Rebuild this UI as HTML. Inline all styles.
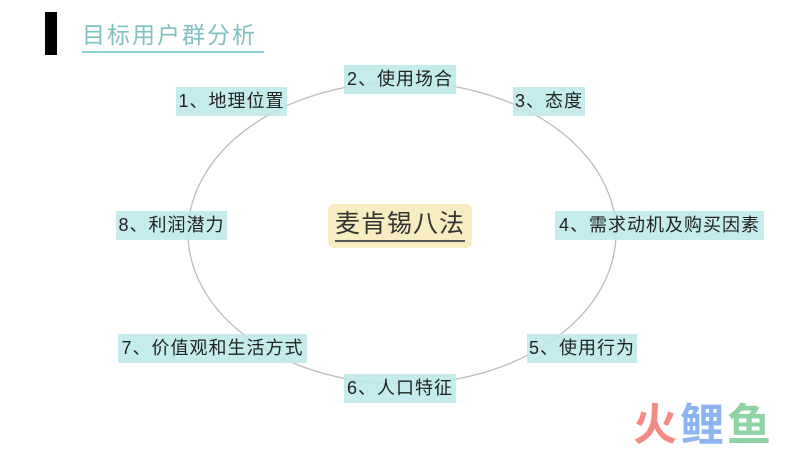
<!DOCTYPE html>
<html><head><meta charset="utf-8"><style>
html,body{margin:0;padding:0;background:#fff;}
body{width:800px;height:450px;position:relative;overflow:hidden;font-family:"Liberation Sans","Noto Sans CJK SC",sans-serif;}
.l{position:absolute;background:rgba(190,232,234,0.88);color:#222;font-size:18px;line-height:29px;height:29px;text-align:center;white-space:nowrap;letter-spacing:1px;}
</style></head><body>
<div style="position:absolute;left:45px;top:12px;width:12px;height:43px;background:#000"></div>
<div style="position:absolute;left:82px;top:20px;width:182px;font-size:23px;color:#7fc1c1;letter-spacing:2px;line-height:30px;border-bottom:2px solid #8acfcf;padding-bottom:1px;">目标用户群分析</div>
<svg width="800" height="450" style="position:absolute;left:0;top:0"><ellipse cx="402" cy="233" rx="214" ry="151" fill="none" stroke="#bbb" stroke-width="1.3"/></svg>
<div class="l" style="left:176px;top:87px;width:111px">1、地理位置</div>
<div class="l" style="left:344px;top:65px;width:112px">2、使用场合</div>
<div class="l" style="left:513px;top:87px;width:72px">3、态度</div>
<div class="l" style="left:555px;top:211px;width:209px">4、需求动机及购买因素</div>
<div class="l" style="left:116px;top:211px;width:111px">8、利润潜力</div>
<div class="l" style="left:118px;top:334px;width:189px">7、价值观和生活方式</div>
<div class="l" style="left:527px;top:334px;width:110px">5、使用行为</div>
<div class="l" style="left:344px;top:374px;width:112px">6、人口特征</div>
<div style="position:absolute;left:328px;top:204px;width:144px;height:44px;background:#f8ecc2;border-radius:7px;"></div>
<div style="position:absolute;left:335px;top:208px;width:130px;text-align:center;font-size:25px;line-height:32px;color:#333;border-bottom:2px solid #555;letter-spacing:1px;">麦肯锡八法</div>
<div style="position:absolute;left:633px;top:403px;font-size:44px;font-weight:bold;line-height:46px;letter-spacing:3px;white-space:nowrap;"><span style="color:#f48a84">火</span><span style="color:#8db4f0">鲤</span><span style="color:#8fd3a4">鱼</span></div>
</body></html>
